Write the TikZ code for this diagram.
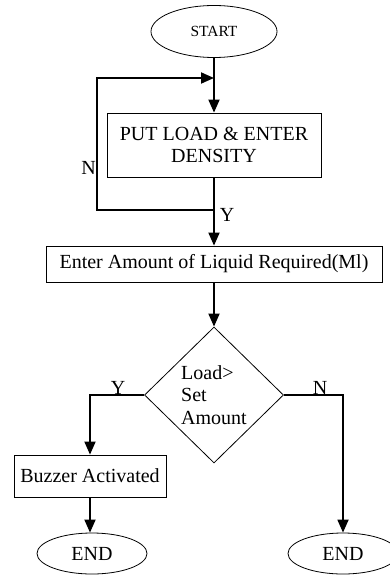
\documentclass[tikz,border=0pt]{standalone}
\usepackage{fontspec}
\setmainfont{Liberation Serif}
\usetikzlibrary{shapes.geometric,arrows.meta}
\tikzset{
  base/.style={draw=black, line width=0.8pt, inner sep=0pt, font=\fontsize{20}{22.5}\selectfont},
  term/.style={base, ellipse},
  procbox/.style={base, rectangle},
  decide/.style={base, diamond, align=left},
  conn/.style={line width=1.8pt, draw=black},
  arr/.style={conn, -{Triangle[length=13pt, width=11pt]}},
  lbl/.style={inner sep=0pt, font=\fontsize{20}{22.5}\selectfont}
}
\begin{document}
\begin{tikzpicture}[x=1pt, y=-1pt]
\clip (0,0) rectangle (390,575);
\fill[white] (0,0) rectangle (390,575);
% nodes
\node[term, minimum width=126pt, minimum height=52pt, font=\fontsize{15.5}{17}\selectfont] (start) at (214,31.5) {START};
\node[procbox, minimum width=214pt, minimum height=64pt, align=center] (put) at (214,145) {PUT LOAD \& ENTER\\DENSITY};
\node[procbox, minimum width=336pt, minimum height=36pt] (enter) at (214,264) {Enter Amount of Liquid Required(Ml)};
\node[decide, minimum width=139pt, minimum height=136pt] (dia) at (214,395) {Load>\\Set\\Amount};
\node[procbox, minimum width=152pt, minimum height=42pt] (buzz) at (90,476) {Buzzer Activated};
\node[term, minimum width=110pt, minimum height=41pt] (end1) at (92,553.5) {END};
\node[term, minimum width=110pt, minimum height=41pt] (end2) at (343,553.5) {END};
% loop coordinates
\coordinate (lt) at (214,78);
\coordinate (ly) at (214,210);
\coordinate (lb) at (97,210);
% connectors
\draw[arr] (start.south) -- (put.north);
\draw[conn] (put.south) -- (ly);
\draw[arr] (ly) -- (enter.north);
\draw[arr] (ly) -- (lb) |- (lt);
\draw[arr] (enter.south) -- (dia.north);
\draw[arr] (dia.west) -| (buzz.north);
\draw[arr] (buzz.south) -- (buzz.south |- end1.north);
\draw[arr] (dia.east) -| (end2.north);
% labels
\node[lbl, anchor=east] (nl) at (96,168) {N};
\node[lbl] (yl) at (227,215) {Y};
\node[lbl] (y2) at (118,388) {Y};
\node[lbl] (n2) at (320,388) {N};
\end{tikzpicture}
\end{document}
